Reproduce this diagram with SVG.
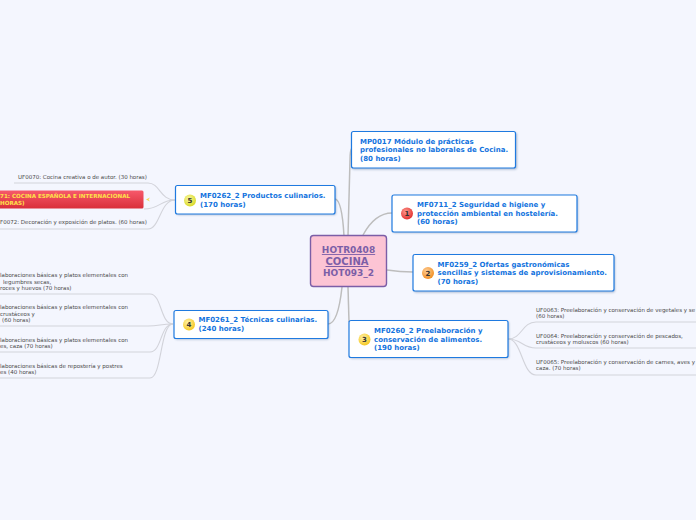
<svg xmlns="http://www.w3.org/2000/svg" width="696" height="520" viewBox="0 0 696 520">
<style>
text{font-family:"DejaVu Sans",Verdana,sans-serif}
.n{fill:#fff;stroke:#1f7ae0;stroke-width:1.2}
.s{fill:#4a6a95;opacity:.45;filter:url(#blur)}
.t{font-size:7px;font-weight:700;fill:#1273de}
.l{font-size:5.500px;fill:#4a4a4a}
.c{fill:none;stroke:#bdbdbd;stroke-width:1.5}
.b{fill:none;stroke:#d2d3da;stroke-width:1.1}
.i{font-size:7px;font-weight:700;fill:#333;text-anchor:middle}
.h{font-weight:700;fill:#7b5ea7;text-anchor:middle;text-decoration:underline}
</style>
<defs>
<filter id="blur" x="-10%" y="-20%" width="120%" height="140%"><feGaussianBlur stdDeviation="0.8"/></filter>
<radialGradient id="gr" cx=".4" cy=".35" r=".7"><stop offset="0" stop-color="#ff9a8f"/><stop offset="1" stop-color="#e02a2a"/></radialGradient>
<radialGradient id="go" cx=".4" cy=".35" r=".7"><stop offset="0" stop-color="#ffd09a"/><stop offset="1" stop-color="#f08a1c"/></radialGradient>
<radialGradient id="gy" cx=".4" cy=".35" r=".7"><stop offset="0" stop-color="#fff2a8"/><stop offset="1" stop-color="#f5c518"/></radialGradient>
<radialGradient id="gg" cx=".4" cy=".35" r=".7"><stop offset="0" stop-color="#f8f7a0"/><stop offset="1" stop-color="#d8d820"/></radialGradient>
<linearGradient id="rb" x1="0" y1="0" x2="0" y2="1"><stop offset="0" stop-color="#f7596b"/><stop offset="1" stop-color="#d92f3a"/></linearGradient>
</defs>
<rect width="696" height="520" fill="#f4f6fe"/>
<g id="connectors">
<path class="c" d="M348 236L350 160Q350 150 352 148"/>
<path class="c" d="M363 235Q375 213 392 213"/>
<path class="c" d="M387 270Q400 272 413 272"/>
<path class="c" d="M348 287L349 322"/>
<path class="c" d="M344 236Q342 200 335 199"/>
<path class="c" d="M342 287Q338 324 328 324"/>
<path class="b" d="M508 339C522 339 522 322 536 322L696 322"/>
<path class="b" d="M508 339C522 339 522 348 536 348L696 348"/>
<path class="b" d="M508 339C522 339 522 375 536 375L696 375"/>
<path class="b" d="M175 200C160 200 160 183 148 183L14 183"/>
<path class="b" d="M175 200C160 200 160 209 144 209"/>
<path class="b" d="M175 200C160 200 160 229 148 229L0 229"/>
<path class="b" d="M173 324C160 324 162 294 150 294L0 294"/>
<path class="b" d="M173 324C160 324 160 326 148 326L0 326"/>
<path class="b" d="M173 324C160 324 162 352 150 352L0 352"/>
<path class="b" d="M173 324C160 324 162 378 150 378L0 378"/>
</g>
<g id="root">
<rect x="310.500" y="235.500" width="76" height="51" rx="3" fill="#fcc4d4" stroke="#7b5ea7" stroke-width="1.400"/>
<text x="348.500" y="253" class="h" font-size="9">HOTR0408</text>
<text x="347" y="265" class="h" font-size="10">COCINA </text>
<text x="348.500" y="276" font-size="9" font-weight="700" fill="#7b5ea7" text-anchor="middle">HOT093_2</text>
</g>
<g id="mp0017">
<rect x="352" y="132.500" width="165" height="37" rx="2" class="s"/>
<rect x="351.500" y="131.500" width="164" height="36.500" rx="2" class="n"/>
<text class="t" x="360" y="144">MP0017 Módulo de prácticas</text>
<text class="t" x="360" y="152">profesionales no laborales de Cocina.</text>
<text class="t" x="360" y="161">(80 horas)</text>
</g>
<g id="mf0711">
<rect x="393" y="196" width="185" height="37" rx="2" class="s"/>
<rect x="392" y="195" width="185" height="37" rx="2" class="n"/>
<circle cx="407" cy="213.500" r="6" fill="url(#gr)"/><text class="i" x="407" y="216">1</text>
<text class="t" x="417" y="207">MF0711_2 Seguridad e higiene y</text>
<text class="t" x="417" y="216">protección ambiental en hostelería.</text>
<text class="t" x="417" y="224">(60 horas)</text>
</g>
<g id="mf0259">
<rect x="414" y="255.500" width="201" height="37" rx="2" class="s"/>
<rect x="413" y="254.500" width="201" height="36.500" rx="2" class="n"/>
<circle cx="428" cy="273" r="6" fill="url(#go)"/><text class="i" x="428" y="276">2</text>
<text class="t" x="437.500" y="267">MF0259_2 Ofertas gastronómicas</text>
<text class="t" x="437.500" y="275">sencillas y sistemas de aprovisionamiento.</text>
<text class="t" x="437.500" y="284">(70 horas)</text>
</g>
<g id="mf0260">
<rect x="350" y="321.500" width="159" height="37" rx="2" class="s"/>
<rect x="349" y="320.500" width="159" height="37" rx="2" class="n"/>
<circle cx="364.500" cy="339.500" r="6" fill="url(#gy)"/><text class="i" x="364.500" y="342">3</text>
<text class="t" x="374" y="333">MF0260_2 Preelaboración y</text>
<text class="t" x="374" y="342">conservación de alimentos.</text>
<text class="t" x="374" y="350">(190 horas)</text>
</g>
<g id="mf0261">
<rect x="175" y="311.500" width="154" height="28" rx="2" class="s"/>
<rect x="174" y="310.500" width="154" height="28" rx="2" class="n"/>
<circle cx="189" cy="324.500" r="6" fill="url(#gy)"/><text class="i" x="189" y="327">4</text>
<text class="t" x="198.500" y="322">MF0261_2 Técnicas culinarias.</text>
<text class="t" x="198.500" y="331">(240 horas)</text>
</g>
<g id="mf0262">
<rect x="176.500" y="186.500" width="159.500" height="28.500" rx="2" class="s"/>
<rect x="175.500" y="185.500" width="159.500" height="28.500" rx="2" class="n"/>
<circle cx="190" cy="200.500" r="6" fill="url(#gg)"/><text class="i" x="190" y="203">5</text>
<text class="t" x="200" y="198">MF0262_2 Productos culinarios.</text>
<text class="t" x="200" y="207">(170 horas)</text>
</g>
<g id="uf0070"><text class="l" x="18" y="179">UF0070: Cocina creativa o de autor. (30 horas)</text></g>
<g id="uf0071-red">
<rect x="-4" y="190.500" width="147.500" height="18" rx="1.500" fill="url(#rb)"/>
<text x="0" y="198" font-size="5.600" font-weight="700" fill="#ffe14a">71: COCINA ESPAÑOLA E INTERNACIONAL</text>
<text x="0" y="205" font-size="5.600" font-weight="700" fill="#ffe14a">HORAS)</text>
<path d="M146 199.500L150 197.500L148.500 199.500L150 201.500Z" fill="#f5d94a"/>
</g>
<g id="uf0072"><text class="l" x="0" y="224">F0072: Decoración y exposición de platos. (60 horas)</text></g>
<g id="uf0068"><text class="l"><tspan x="0" y="277">laboraciones básicas y platos elementales con</tspan><tspan x="3" y="283.500">legumbres secas,</tspan><tspan x="0" y="290">roces y huevos (70 horas)</tspan></text></g>
<g id="uf0069"><text class="l"><tspan x="0" y="309">laboraciones básicas y platos elementales con</tspan><tspan x="0" y="315.500">crustáceos y</tspan><tspan x="2" y="322">(60 horas)</tspan></text></g>
<g id="uf0070b"><text class="l"><tspan x="0" y="342">laboraciones básicas y platos elementales con</tspan><tspan x="0" y="348">es, caza (70 horas)</tspan></text></g>
<g id="uf0071"><text class="l"><tspan x="0" y="367.500">laboraciones básicas de repostería y postres</tspan><tspan x="0" y="374">es (40 horas)</tspan></text></g>
<g id="uf0063"><text class="l"><tspan x="536" y="312">UF0063: Preelaboración y conservación de vegetales y se</tspan><tspan x="536" y="318">(60 horas)</tspan></text></g>
<g id="uf0064"><text class="l"><tspan x="536" y="338">UF0064: Preelaboración y conservación de pescados,</tspan><tspan x="536" y="344">crustáceos y moluscos (60 horas)</tspan></text></g>
<g id="uf0065"><text class="l"><tspan x="536" y="364">UF0065: Preelaboración y conservación de carnes, aves y</tspan><tspan x="536" y="370">caza. (70 horas)</tspan></text></g>
</svg>
